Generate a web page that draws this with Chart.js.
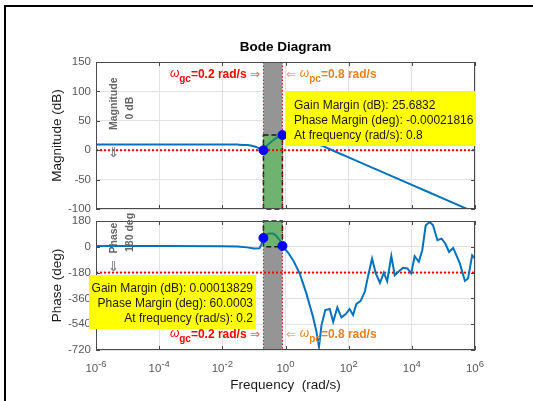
<!DOCTYPE html>
<html>
<head>
<meta charset="utf-8">
<script src="https://cdn.jsdelivr.net/npm/chart.js@4.4.1/dist/chart.umd.min.js"></script>
<style>
  html, body { margin: 0; padding: 0; background: #fff; }
  #wrap { position: relative; width: 533px; height: 401px; overflow: hidden; }
  #wrap canvas { position: absolute; left: 0; top: 0; }
  #frame { position: absolute; left: 4px; top: 5px; width: 600px; height: 500px;
           border-left: 2px solid #000; border-top: 2px solid #000; }
</style>
</head>
<body>
<div id="wrap">
  <div id="frame"></div>
  <canvas id="mag" width="533" height="401"></canvas>
  <canvas id="phase" width="533" height="401"></canvas>
</div>
<script>
// axis ticks
const xTickVals = [1e-6, 1e-4, 1e-2, 1, 1e2, 1e4, 1e6];
const xTickExps = ['-6', '-4', '-2', '0', '2', '4', '6'];
const magTickVals = [-100, -50, 0, 50, 100, 150];
const phaseTickVals = [-720, -540, -360, -180, 0, 180];

// crossover frequencies (rad/s)
const wGc = 0.2;
const wPc = 0.8;

// magnitude curve
const magW  = [1e-6, 1e-4, 1e-2, 0.03, 0.06, 0.1, 0.14, 0.2, 0.25, 0.3, 0.4, 0.5, 0.6, 0.8, 5, 15.5, 100, 1e3, 1e4, 1e5, 1e6];
const magDb = [9.8, 9.8, 9.7, 9.5, 8.8, 6.8, 4, 0, 7, 11, 16.5, 20.5, 23, 25.6832, 18.3, 6.8, -12.2, -35.6, -59, -82.4, -105.8];
const magMarkDb = [0, 25.6832];
const magGreen = [-100, 25.6832];

// phase curve
const phaseW = [1e-6, 1e-4, 1e-2, 0.03, 0.06, 0.1, 0.15, 0.17, 0.2, 0.25, 0.3, 0.4, 0.5, 0.65, 0.8,
  1.2, 1.74, 2.82, 4.57, 7.41, 9.5, 11.5, 13.8, 18.2, 25.1, 32.4, 43.7, 58.9, 81.3, 107, 138, 174,
  240, 324, 407, 550, 724, 977, 1290, 1660, 2240, 2880, 3890, 5250, 7240, 9550, 12300, 16600,
  21400, 27500, 37200, 46800, 64600, 87100, 115000, 151000, 204000, 331000, 479000, 603000, 813000, 1e6];
const phaseDeg = [5, 5, 4, 2, -4, -12, -10, 12, 62, 84, 93, 92, 78, 48, 6,
  -40, -93, -186, -325, -488, -590, -697, -546, -441, -434, -523, -423, -492, -469, -434, -476, -400,
  -377, -314, -210, -82, -186, -251, -182, -240, -64, -198, -170, -147, -151, -186, -66, -105,
  -24, 150, 173, 150, 46, 57, 23, -36, -8, -116, -238, -221, -59, -82];
const phaseMarkDeg = [62, 6];
const phaseGreen = [0, 180];

// annotation texts
const magBoxLines = ['Gain Margin (dB): 25.6832', 'Phase Margin (deg): -0.00021816', 'At frequency (rad/s): 0.8'];
const phaseBoxLines = ['Gain Margin (dB): 0.00013829', 'Phase Margin (deg): 60.0003', 'At frequency (rad/s): 0.2'];

const FF = '"Liberation Sans", Arial, Helvetica, sans-serif';
const AF = '"DejaVu Sans", sans-serif';
const blue = '#0072bd';
const teal = '#16866c';
const red = '#ff0000';
const orange = '#e8821e';
const gridColor = '#e2e2e2';
const axisColor = '#4a4a4a';

function pts(xs, ys) { return xs.map((x, i) => ({ x: x, y: ys[i] })); }

function rich(ctx, parts, x, y, align) {
  let w = 0;
  parts.forEach(p => { ctx.font = p.f; p.w = ctx.measureText(p.t).width; w += p.w; });
  let cx = align === 'right' ? x - w : (align === 'center' ? x - w / 2 : x);
  ctx.textAlign = 'left';
  ctx.textBaseline = 'alphabetic';
  parts.forEach(p => {
    ctx.font = p.f; ctx.fillStyle = p.c;
    ctx.fillText(p.t, cx, y + (p.dy || 0));
    cx += p.w;
  });
}

function rotText(ctx, text, x, y, font, color, align) {
  ctx.save();
  ctx.translate(x, y);
  ctx.rotate(-Math.PI / 2);
  ctx.font = font; ctx.fillStyle = color;
  ctx.textAlign = align || 'left';
  ctx.textBaseline = 'alphabetic';
  ctx.fillText(text, 0, 0);
  ctx.restore();
}

function gcLabel(ctx, x, y) {
  rich(ctx, [
    { t: 'ω', f: 'italic 12px ' + FF, c: red, dy: -1 },
    { t: 'gc', f: 'bold 10px ' + FF, c: red, dy: 4 },
    { t: '=0.2 rad/s ', f: 'bold 12px ' + FF, c: red },
    { t: '⇒', f: '12px ' + AF, c: '#ff5a5a' }
  ], x, y, 'right');
}

function pcLabel(ctx, x, y) {
  rich(ctx, [
    { t: '⇐ ', f: '12px ' + AF, c: '#f0a660' },
    { t: 'ω', f: 'italic 12px ' + FF, c: orange, dy: -1 },
    { t: 'pc', f: 'bold 10px ' + FF, c: orange, dy: 4 },
    { t: '=0.8 rad/s', f: 'bold 12px ' + FF, c: orange }
  ], x, y, 'left');
}

function bodeDecor(kind) {
  return {
    id: 'bode_' + kind,
    beforeDatasetsDraw(chart) {
      const { ctx, chartArea: a, scales: { x, y } } = chart;
      const x0 = x.getPixelForValue(wGc), x1 = x.getPixelForValue(wPc);
      const green = kind === 'mag' ? magGreen : phaseGreen;
      const gTop = y.getPixelForValue(green[1]), gBot = y.getPixelForValue(green[0]);
      ctx.save();
      ctx.fillStyle = '#959595';
      ctx.fillRect(x0, a.top, x1 - x0, a.bottom - a.top);
      ctx.fillStyle = '#6fb36f';
      ctx.fillRect(x0, gTop, x1 - x0, gBot - gTop);
      ctx.setLineDash([5, 3]);
      ctx.strokeStyle = '#1a1a1a';
      ctx.lineWidth = 1.5;
      ctx.strokeRect(x0, gTop, x1 - x0, gBot - gTop);
      // crossover verticals
      ctx.setLineDash([1.5, 2]);
      ctx.lineWidth = 1;
      ctx.strokeStyle = '#c81e1e';
      [x0, x1].forEach(px => {
        ctx.beginPath(); ctx.moveTo(px, a.top); ctx.lineTo(px, a.bottom); ctx.stroke();
      });
      // 0 dB / -180 deg reference
      const yRef = y.getPixelForValue(kind === 'mag' ? 0 : -180);
      ctx.strokeStyle = red;
      ctx.lineWidth = 2;
      ctx.setLineDash([2, 2]);
      ctx.beginPath(); ctx.moveTo(a.left, yRef); ctx.lineTo(a.right, yRef); ctx.stroke();
      ctx.restore();
    },
    afterDatasetsDraw(chart) {
      const { ctx, chartArea: a, scales: { x, y } } = chart;
      ctx.save();
      // axes box and inward ticks
      ctx.strokeStyle = axisColor;
      ctx.lineWidth = 1;
      ctx.strokeRect(a.left + 0.5, a.top + 0.5, a.right - a.left - 1, a.bottom - a.top - 1);
      const yTicks = kind === 'mag' ? magTickVals : phaseTickVals;
      ctx.beginPath();
      yTicks.forEach(v => {
        const py = Math.round(y.getPixelForValue(v)) + 0.5;
        ctx.moveTo(a.left, py); ctx.lineTo(a.left + 4, py);
        ctx.moveTo(a.right - 4, py); ctx.lineTo(a.right, py);
      });
      xTickVals.forEach(v => {
        const px = Math.round(x.getPixelForValue(v)) + 0.5;
        ctx.moveTo(px, a.top); ctx.lineTo(px, a.top + 4);
        ctx.moveTo(px, a.bottom); ctx.lineTo(px, a.bottom - 4);
      });
      ctx.stroke();

      if (kind === 'mag') {
        // title
        ctx.fillStyle = '#000';
        ctx.font = 'bold 13.5px ' + FF;
        ctx.textAlign = 'center';
        ctx.fillText('Bode Diagram', (a.left + a.right) / 2, 51);
        rotText(ctx, 'Magnitude (dB)', 61, (a.top + a.bottom) / 2, '13.5px ' + FF, '#1a1a1a', 'center');
        // margin box
        ctx.fillStyle = '#ffff00';
        ctx.fillRect(286, 91, a.right - 286, 55);
        ctx.fillStyle = '#1a1a1a';
        ctx.font = '12px ' + FF;
        ctx.textAlign = 'left';
        magBoxLines.forEach((t, i) => ctx.fillText(t, 294, 108.5 + i * 15.2));
        gcLabel(ctx, 260, 78);
        pcLabel(ctx, 286, 78);
        // rotated note
        rotText(ctx, '⇐', 117.5, 158, '14px ' + AF, '#7a7a7a');
        rotText(ctx, 'Magnitude', 117, 130, 'bold 10.5px ' + FF, '#666');
        rotText(ctx, '0 dB', 132.5, 119.5, 'bold 10.5px ' + FF, '#666');
      } else {
        rotText(ctx, 'Phase (deg)', 61, (a.top + a.bottom) / 2, '13.5px ' + FF, '#1a1a1a', 'center');
        ctx.fillStyle = '#1a1a1a';
        ctx.font = '13.5px ' + FF;
        ctx.textAlign = 'center';
        ctx.fillText('Frequency  (rad/s)', (a.left + a.right) / 2, 389);
        // x tick labels 10^n
        xTickVals.forEach((v, i) => {
          const px = x.getPixelForValue(v);
          rich(ctx, [
            { t: '10', f: '11.5px ' + FF, c: '#595959' },
            { t: xTickExps[i], f: '9.5px ' + FF, c: '#595959', dy: -5.5 }
          ], px, 372, 'center');
        });
        // margin box
        ctx.fillStyle = '#ffff00';
        ctx.fillRect(89, 275, 167, 54);
        ctx.fillStyle = '#1a1a1a';
        ctx.font = '12px ' + FF;
        ctx.textAlign = 'right';
        phaseBoxLines.forEach((t, i) => ctx.fillText(t, 253, 292.3 + i * 15));
        gcLabel(ctx, 260, 338);
        pcLabel(ctx, 286, 338);
        rotText(ctx, '⇐', 117.5, 272, '14px ' + AF, '#7a7a7a');
        rotText(ctx, 'Phase', 117, 253.5, 'bold 10.5px ' + FF, '#666');
        rotText(ctx, '180 deg', 132.5, 252, 'bold 10.5px ' + FF, '#666');
      }
      ctx.restore();
    }
  };
}

function makeChart(id, kind) {
  const isMag = kind === 'mag';
  const ws = isMag ? magW : phaseW;
  const vs = isMag ? magDb : phaseDeg;
  const marks = isMag ? magMarkDb : phaseMarkDeg;
  const yTicks = isMag ? magTickVals : phaseTickVals;
  return new Chart(document.getElementById(id), {
    type: 'line',
    data: {
      datasets: [
        {
          data: pts([wGc, wPc], marks),
          showLine: false,
          pointRadius: 4.5,
          pointBackgroundColor: '#0000ff',
          pointBorderColor: '#0000ff',
          order: 0
        },
        {
          data: pts(ws, vs),
          borderColor: blue,
          borderWidth: 2,
          pointRadius: 0,
          tension: 0,
          cubicInterpolationMode: isMag ? 'monotone' : 'default',
          segment: {
            borderColor: c => (c.p0.parsed.x >= wGc && c.p1.parsed.x <= wPc) ? teal : undefined
          },
          order: 1
        }
      ]
    },
    options: {
      responsive: false,
      animation: false,
      layout: { padding: { top: isMag ? 62 : 221, right: 58, left: 0, bottom: 0 } },
      plugins: { legend: { display: false }, tooltip: { enabled: false } },
      scales: {
        x: {
          type: 'logarithmic',
          min: 1e-6,
          max: 1e6,
          afterBuildTicks: s => { s.ticks = xTickVals.map(v => ({ value: v })); },
          afterFit: s => { s.height = isMag ? 192 : 51; },
          ticks: { display: false },
          grid: { color: gridColor, drawTicks: false },
          border: { display: false }
        },
        y: {
          min: yTicks[0],
          max: yTicks[yTicks.length - 1],
          afterBuildTicks: s => { s.ticks = yTicks.map(v => ({ value: v })); },
          afterFit: s => { s.width = 96; },
          ticks: { color: '#595959', padding: 5, font: { family: FF, size: 11.5 } },
          grid: { color: gridColor, drawTicks: false },
          border: { display: false }
        }
      }
    },
    plugins: [bodeDecor(kind)]
  });
}

makeChart('mag', 'mag');
makeChart('phase', 'phase');
</script>
</body>
</html>
